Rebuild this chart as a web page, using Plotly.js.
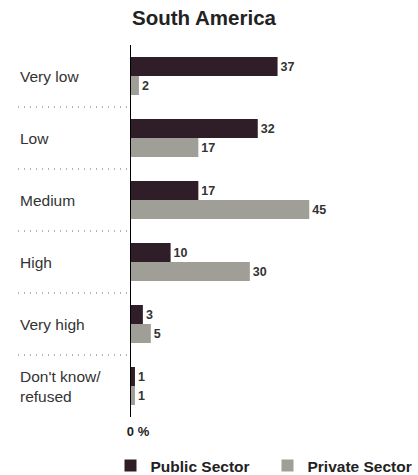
<!DOCTYPE html>
<html>
<head>
<meta charset="utf-8">
<script src="https://cdn.plot.ly/plotly-3.0.1.min.js"></script>
<style>html,body{margin:0;padding:0;background:#fff;}#chart{width:418px;height:475px;}</style>
</head>
<body>
<div id="chart"></div>
<script>
const categories = ["Very low", "Low", "Medium", "High", "Very high", "Don't know/<br>refused"];
const publicSector = [37, 32, 17, 10, 3, 1];
const privateSector = [2, 17, 45, 30, 5, 1];
const seriesNames = ["Public Sector", "Private Sector"];
const chartTitle = "South America";
const xTickLabel = "0 %";

const FONT = '"Liberation Sans", Arial, Helvetica, sans-serif';
const catIdx = categories.map((c, i) => i);

const traces = [
  {
    type: 'bar', orientation: 'h', name: seriesNames[0],
    y: catIdx, x: publicSector,
    marker: {color: '#2f1e28'},
    text: publicSector.map(String), textposition: 'outside',
    textfont: {family: FONT, size: 12.5, color: '#333', weight: 'bold'},
    cliponaxis: false, hoverinfo: 'skip'
  },
  {
    type: 'bar', orientation: 'h', name: seriesNames[1],
    y: catIdx, x: privateSector,
    marker: {color: '#9f9e97'},
    text: privateSector.map(String), textposition: 'outside',
    textfont: {family: FONT, size: 12.5, color: '#333', weight: 'bold'},
    cliponaxis: false, hoverinfo: 'skip'
  }
];

const plotW = 286;
const labelX = (18 - 131) / plotW;
const annotations = categories.map((c, i) => ({
  xref: 'paper', yref: 'y', x: labelX, y: i, xanchor: 'left', yanchor: 'middle',
  text: c, showarrow: false, align: 'left',
  font: {family: FONT, size: 15.5, color: '#333'}
}));

const shapes = [];
for (let i = 0; i < categories.length - 1; i++) {
  shapes.push({
    type: 'line', xref: 'paper', yref: 'y',
    x0: (18 - 131) / plotW, x1: (129 - 131) / plotW, y0: i + 0.5, y1: i + 0.5,
    line: {color: '#666', width: 1, dash: '1px,5px'}
  });
}

const layout = {
  width: 418, height: 475,
  margin: {l: 131, r: 1, t: 45, b: 58, autoexpand: false},
  paper_bgcolor: '#fff', plot_bgcolor: '#fff',
  font: {family: FONT, color: '#222'},
  title: {text: '<b>' + chartTitle + '</b>', x: 204 / 418, xanchor: 'center', y: 1 - 18 / 475, yanchor: 'middle',
          font: {family: FONT, size: 20.5, color: '#222'}},
  barmode: 'group', bargap: 0.387, bargroupgap: 0,
  showlegend: true,
  legend: {orientation: 'h', x: (110.5 - 131) / plotW, xanchor: 'left', y: -(466 - 417) / 372, yanchor: 'middle',
           font: {family: FONT, size: 15.5, color: '#222', weight: 'bold'}, entrywidth: 112, traceorder: 'normal',
           bgcolor: 'rgba(0,0,0,0)'},
  xaxis: {range: [0, 72.2], showgrid: false, zeroline: false, showline: false, automargin: false,
          tickmode: 'array', tickvals: [0], ticktext: [xTickLabel], ticks: '',
          tickfont: {family: FONT, size: 13, color: '#222', weight: 'bold'}, ticklabelshift: 7, ticklabelstandoff: 5, fixedrange: true},
  yaxis: {type: 'linear', range: [5.5, -0.5], showgrid: false, zeroline: false, showline: true, linecolor: '#000', linewidth: 1,
          showticklabels: false, ticks: '', fixedrange: true, automargin: false},
  annotations: annotations,
  shapes: shapes
};

Plotly.newPlot('chart', traces, layout, {displayModeBar: false, staticPlot: true});
</script>
</body>
</html>
